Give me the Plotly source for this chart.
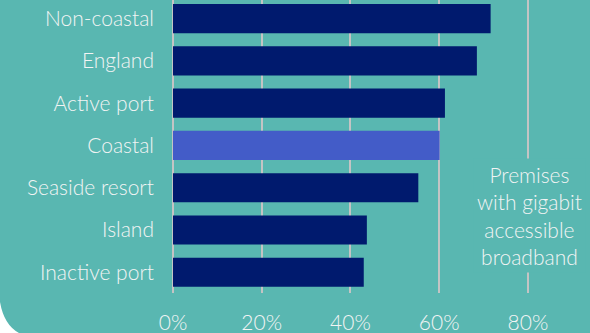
import plotly.graph_objects as go

categories = ["Non-coastal", "England", "Active port", "Coastal", "Seaside resort", "Island", "Inactive port"]
values = [71.6, 68.5, 61.3, 60.1, 55.3, 43.7, 43.0]
highlight = "Coastal"
tick_vals = [0, 20, 40, 60, 80]
tick_text = ["0%", "20%", "40%", "60%", "80%"]
note_text = "Premises<br>with gigabit<br>accessible<br>broadband"

BG = "#59B7B1"
NAVY = "#001A6E"
HIGHLIGHT = "#435CC8"
GRID = "#C4C4C4"
TXT = "#F2F4F4"
FONT = "Lato"
FW = 300
FS = 21

W, H = 590, 333
ML, MR, MT, MB = 173, 0, 0, 40

colors = [HIGHLIGHT if c == highlight else NAVY for c in categories]

fig = go.Figure(go.Bar(
    x=values, y=categories, orientation="h",
    marker=dict(color=colors, line=dict(width=0)),
    width=0.69,
    hoverinfo="skip",
))

pw = W - ML - MR
ph = H - MT - MB
def px(x):
    return (x - ML) / pw
def py(y):
    return (H - MB - y) / ph
path = (f"M {px(0)},{py(302)} Q {px(4)},{py(325)} {px(19)},{py(333)} "
        f"L {px(0)},{py(333)} Z")

fig.update_layout(
    width=W, height=H,
    margin=dict(l=ML, r=MR, t=MT, b=MB, pad=0),
    paper_bgcolor=BG, plot_bgcolor=BG,
    font=dict(family=FONT, color=TXT, size=FS, weight=FW),
    showlegend=False,
    xaxis=dict(
        range=[0, 94], tickvals=tick_vals, ticktext=tick_text,
        showgrid=True, gridcolor=GRID, gridwidth=2,
        zeroline=True, zerolinecolor=GRID, zerolinewidth=2,
        showline=False, ticks="", ticklabelstandoff=15,
        tickfont=dict(size=FS, color=TXT, family=FONT, weight=FW),
        fixedrange=True,
    ),
    yaxis=dict(
        type="category", categoryorder="array", categoryarray=categories,
        range=[6.49, -0.44],
        showgrid=False, zeroline=False, showline=False, ticks="",
        ticklabelstandoff=18,
        tickfont=dict(size=FS, color=TXT, family=FONT, weight=FW),
        fixedrange=True,
    ),
    shapes=[dict(type="path", xref="paper", yref="paper", path=path,
                 fillcolor="#FFFFFF", line=dict(width=0), layer="above")],
    annotations=[dict(
        x=80.3, y=py(215), xref="x", yref="paper", text=note_text,
        showarrow=False, align="center", xanchor="center", yanchor="middle",
        bgcolor=BG, borderpad=3,
        font=dict(size=FS, color=TXT, family=FONT, weight=FW),
    )],
)

fig.write_html("out.html")
